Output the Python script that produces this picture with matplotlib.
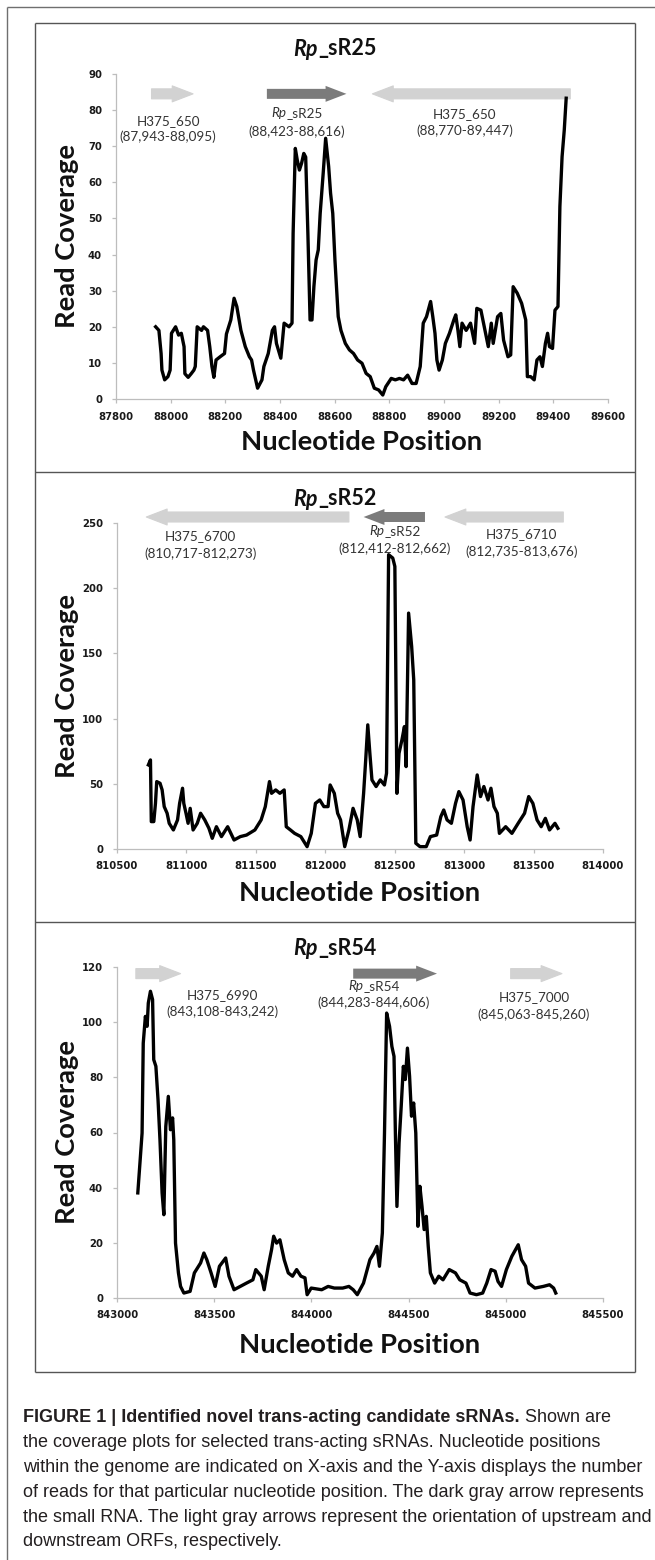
import matplotlib
matplotlib.use("Agg")
import matplotlib.pyplot as plt
from matplotlib.lines import Line2D
from matplotlib.patches import ArrowStyle

W, H = 655, 1560
fig = plt.figure(figsize=(W / 100, H / 100), dpi=100)
fig.patch.set_facecolor("white")

HUM = ["Lato", "DejaVu Sans"]
ARIAL = ["Liberation Sans", "DejaVu Sans"]
TICKF = ["DejaVu Sans"]

# ---------------- data ----------------
# Panel 1: Rp_sR25
p1_x = [87945, 87957, 87965, 87968, 87978, 87990, 87998, 88003, 88018, 88029, 88039, 88049, 88052, 88064,
        88075, 88085, 88090, 88097, 88113, 88120, 88135, 88143, 88151, 88158, 88166, 88181, 88197, 88204,
        88220, 88232, 88242, 88257, 88273, 88288, 88296, 88303, 88318, 88334, 88341, 88357, 88372, 88380,
        88387, 88403, 88415, 88433, 88444, 88448, 88456, 88463, 88471, 88479, 88487, 88494, 88502, 88510,
        88517, 88524, 88532, 88540, 88547, 88558, 88567, 88578, 88585, 88593, 88601, 88613, 88623, 88639,
        88654, 88669, 88684, 88700, 88715, 88730, 88745, 88761, 88776, 88787, 88807, 88822, 88837, 88852,
        88867, 88883, 88898, 88913, 88924, 88936, 88951, 88959, 88967, 88974, 88982, 88994, 89005, 89020,
        89036, 89043, 89051, 89058, 89066, 89081, 89097, 89112, 89120, 89135, 89150, 89162, 89173, 89180,
        89196, 89208, 89218, 89234, 89244, 89253, 89268, 89284, 89299, 89305, 89317, 89330, 89340, 89351,
        89360, 89371, 89379, 89386, 89397, 89406, 89417, 89424, 89432, 89440, 89447]
p1_y = [20.0, 19.0, 12.6, 8.0, 5.3, 6.2, 8.0, 18.2, 20.0, 17.7, 18.2, 14.5, 7.0, 6.0,
        7.0, 8.0, 9.0, 20.0, 19.0, 20.0, 19.0, 14.5, 9.0, 6.0, 10.8, 11.7, 12.6, 18.0,
        21.9, 27.9, 25.6, 19.0, 14.5, 11.7, 10.8, 8.0, 3.0, 5.3, 9.0, 12.6, 19.0, 20.0,
        15.4, 11.3, 21.0, 20.0, 21.0, 45.9, 69.4, 66.2, 63.4, 65.3, 68.0, 67.0, 45.9, 21.9,
        21.9, 31.1, 38.5, 41.3, 51.4, 62.5, 72.2, 64.4, 57.0, 51.4, 38.5, 22.8, 19.0, 15.4,
        13.6, 12.6, 10.8, 9.9, 7.1, 6.2, 3.0, 2.5, 1.1, 3.4, 5.7, 5.3, 5.7, 5.3,
        6.6, 4.3, 4.3, 9.0, 21.0, 22.8, 27.0, 22.8, 18.2, 10.8, 8.0, 10.8, 15.4, 18.2,
        21.9, 23.3, 19.0, 14.5, 21.0, 19.0, 21.0, 15.4, 25.1, 24.6, 19.0, 14.5, 21.0, 15.4,
        22.8, 23.7, 16.3, 11.7, 12.2, 31.1, 29.3, 26.5, 21.9, 6.2, 6.2, 5.3, 10.8, 11.7,
        9.0, 15.4, 18.2, 14.5, 14.0, 24.6, 25.6, 53.3, 67.1, 74.5, 83.3]

# Panel 2: Rp_sR52
p2_x = [810726, 810741, 810747, 810765, 810777, 810786, 810810, 810825, 810840, 810861, 810876, 810906,
        810936, 810951, 810972, 810981, 810997, 811012, 811027, 811048, 811078, 811102, 811132, 811162,
        811186, 811216, 811252, 811297, 811343, 811388, 811433, 811493, 811538, 811568, 811598, 811613,
        811643, 811673, 811704, 811719, 811749, 811779, 811824, 811869, 811899, 811929, 811960, 811990,
        812020, 812035, 812065, 812089, 812110, 812140, 812170, 812200, 812230, 812251, 812276, 812291,
        812306, 812321, 812336, 812366, 812396, 812426, 812441, 812456, 812486, 812501, 812516, 812531,
        812552, 812570, 812582, 812600, 812622, 812637, 812652, 812682, 812727, 812757, 812802, 812832,
        812853, 812877, 812908, 812938, 812962, 812992, 813022, 813043, 813064, 813094, 813118, 813142,
        813172, 813193, 813215, 813239, 813254, 813299, 813344, 813389, 813435, 813465, 813495, 813525,
        813555, 813585, 813615, 813654, 813675]
p2_y = [64.5, 68.3, 21.0, 21.0, 35.0, 51.7, 50.4, 45.3, 32.5, 27.4, 19.7, 14.6,
        22.3, 35.0, 46.6, 35.0, 27.4, 19.7, 31.2, 14.6, 19.7, 27.4, 22.3, 15.9,
        8.2, 17.1, 9.5, 17.1, 6.9, 9.5, 10.7, 14.6, 22.3, 32.5, 51.7, 42.7,
        45.3, 42.7, 45.3, 17.1, 14.6, 12.0, 9.5, 1.8, 12.0, 35.0, 37.6, 32.5,
        32.5, 49.1, 42.7, 27.4, 22.3, 1.8, 14.6, 31.2, 22.3, 9.5, 42.7, 68.3,
        95.2, 73.4, 53.0, 47.9, 53.0, 49.1, 58.1, 225.7, 223.1, 216.7, 42.7, 73.4,
        83.7, 93.9, 63.2, 180.9, 155.3, 129.7, 4.4, 1.8, 1.8, 9.5, 10.7, 24.8,
        29.9, 22.3, 19.7, 35.0, 44.0, 37.6, 17.1, 6.9, 32.5, 56.8, 40.2, 47.9,
        37.6, 46.6, 32.5, 27.4, 12.0, 17.1, 12.0, 19.7, 27.4, 40.2, 35.0, 22.3,
        17.1, 23.5, 14.6, 19.7, 15.9]

# Panel 3: Rp_sR54
p3_x = [843107, 843118, 843129, 843135, 843146, 843155, 843161, 843172, 843183, 843189, 843200, 843211,
        843221, 843232, 843241, 843251, 843264, 843275, 843286, 843292, 843301, 843316, 843327, 843344,
        843376, 843398, 843430, 843447, 843462, 843484, 843505, 843527, 843559, 843576, 843602, 843634,
        843666, 843699, 843714, 843742, 843757, 843778, 843795, 843806, 843821, 843838, 843860, 843881,
        843903, 843924, 843946, 843967, 843978, 843999, 844053, 844086, 844118, 844161, 844193, 844215,
        844236, 844268, 844301, 844322, 844337, 844350, 844365, 844376, 844387, 844402, 844414, 844425,
        844432, 844440, 844451, 844462, 844473, 844483, 844494, 844505, 844515, 844526, 844537, 844548,
        844558, 844569, 844580, 844591, 844601, 844612, 844634, 844655, 844677, 844709, 844741, 844763,
        844795, 844816, 844849, 844881, 844902, 844924, 844945, 844960, 844978, 845003, 845031, 845064,
        845081, 845102, 845117, 845150, 845193, 845225, 845246, 845257]
p3_y = [38.1, 48.9, 59.8, 92.4, 102.1, 98.5, 106.9, 111.2, 108.2, 86.4, 84.0, 71.9,
        57.4, 38.1, 30.2, 62.2, 73.1, 61.0, 65.3, 57.4, 19.9, 9.1, 4.2, 1.8,
        2.4, 9.1, 12.7, 16.3, 13.9, 9.1, 4.2, 11.5, 14.5, 7.9, 3.0, 4.2,
        5.4, 6.6, 10.3, 7.9, 3.0, 11.5, 17.5, 22.4, 19.9, 21.1, 13.9, 9.1,
        7.9, 10.3, 7.9, 7.3, 1.2, 3.6, 3.0, 4.2, 3.6, 3.6, 4.2, 3.0,
        1.2, 5.4, 13.9, 16.3, 18.7, 11.5, 23.6, 59.8, 103.3, 98.5, 91.2, 87.6,
        59.8, 33.2, 56.2, 69.5, 84.0, 79.2, 90.6, 80.4, 65.9, 70.7, 59.8, 26.0,
        40.5, 33.2, 24.8, 29.6, 18.7, 9.1, 5.4, 7.9, 6.6, 10.3, 9.1, 6.6,
        5.4, 1.8, 1.2, 1.8, 5.4, 10.3, 9.7, 6.0, 4.2, 10.3, 15.1, 19.3,
        13.9, 11.5, 5.4, 3.6, 4.2, 4.8, 3.6, 1.8]

titles = [("Rp", "_sR25"), ("Rp", "_sR52"), ("Rp", "_sR54")]
p1_xticks = [87800, 88000, 88200, 88400, 88600, 88800, 89000, 89200, 89400, 89600]
p1_yticks = [0, 10, 20, 30, 40, 50, 60, 70, 80, 90]
p2_xticks = [810500, 811000, 811500, 812000, 812500, 813000, 813500, 814000]
p2_yticks = [0, 50, 100, 150, 200, 250]
p3_xticks = [843000, 843500, 844000, 844500, 845000, 845500]
p3_yticks = [0, 20, 40, 60, 80, 100, 120]

# gene arrows: (tail, head, kind) ; labels: (name_italic, name_rest, coords)
p1_arrows = [(87930, 88082, "light"), (88352, 88643, "dark"), (89462, 88738, "light")]
p2_arrows = [(812170, 810711, "light"), (812718, 812276, "dark"), (813714, 812862, "light")]
p3_arrows = [(843097, 843327, "light"), (844215, 844646, "dark"), (845025, 845289, "light")]
p1_labels = [("", "H375_650", "(87,943-88,095)"), ("Rp", "_sR25", "(88,423-88,616)"),
             ("", "H375_650", "(88,770-89,447)")]
p2_labels = [("", "H375_6700", "(810,717-812,273)"), ("Rp", "_sR52", "(812,412-812,662)"),
             ("", "H375_6710", "(812,735-813,676)")]
p3_labels = [("", "H375_6990", "(843,108-843,242)"), ("Rp", "_sR54", "(844,283-844,606)"),
             ("", "H375_7000", "(845,063-845,260)")]

# ---------------- layout (pixels) ----------------
panels = [
    dict(x=p1_x, y=p1_y, xt=p1_xticks, yt=p1_yticks, arrows=p1_arrows, labels=p1_labels,
         rect=(116, 74, 608, 399), title_y=49, xlabel_y=442, arrow_y=84.5,
         label_pos=[(87991, 77.1, 72.5), (88462, 79.2, 73.9), (89076, 79.0, 74.2)]),
    dict(x=p2_x, y=p2_y, xt=p2_xticks, yt=p2_yticks, arrows=p2_arrows, labels=p2_labels,
         rect=(117, 523, 603, 849), title_y=499, xlabel_y=893, arrow_y=254.6,
         label_pos=[(811102, 239.8, 226.2), (812501, 243.6, 230.0), (813413, 241.6, 228.2)]),
    dict(x=p3_x, y=p3_y, xt=p3_xticks, yt=p3_yticks, arrows=p3_arrows, labels=p3_labels,
         rect=(117, 967, 603, 1298), title_y=949, xlabel_y=1345, arrow_y=117.6,
         label_pos=[(843544, 110.0, 103.7), (844322, 113.2, 106.9), (845145, 109.1, 102.7)]),
]

def fx(px):
    return px / W

def fy(py):
    return 1 - py / H

renderer = fig.canvas.get_renderer()

def multi_text(x_px, y_px, parts, ha="center", va="center"):
    """parts: list of (string, dict of text kwargs); placed side by side, in pixel coords."""
    parts = [p for p in parts if p[0]]
    arts = []
    for s, kw in parts:
        t = fig.text(0, 0, s, va=va, ha="left", **kw)
        arts.append(t)
    widths = [t.get_window_extent(renderer).width for t in arts]
    total = sum(widths)
    start = x_px - total / 2 if ha == "center" else x_px
    cur = start
    for t, w in zip(arts, widths):
        t.set_position((fx(cur), fy(y_px)))
        cur += w
    return arts

arrow_colors = {"light": "#d2d2d2", "dark": "#7b7b7b"}

for P, (it, rest) in zip(panels, titles):
    l, t, r, b = P["rect"]
    ax = fig.add_axes([fx(l), fy(b), (r - l) / W, (b - t) / H])
    ax.plot(P["x"], P["y"], color="black", lw=2.4, solid_joinstyle="round", zorder=3)
    ax.set_xlim(P["xt"][0], P["xt"][-1])
    ax.set_ylim(P["yt"][0], P["yt"][-1])
    ax.set_xticks(P["xt"])
    ax.set_xticklabels([str(v) for v in P["xt"]], fontweight="bold", family=TICKF)
    ax.set_yticks(P["yt"])
    ax.set_yticklabels([str(v) for v in P["yt"]], fontweight="bold", family=TICKF)
    for s in ["top", "right"]:
        ax.spines[s].set_visible(False)
    for s in ["left", "bottom"]:
        ax.spines[s].set_color("#bdbdbd")
        ax.spines[s].set_linewidth(0.9)
    ax.tick_params(axis="both", direction="out", length=3, width=0.9, color="#bdbdbd",
                   labelsize=7.3, labelcolor="#1a1a1a")
    ax.tick_params(axis="y", pad=7)
    ax.tick_params(axis="x", pad=6)
    ax.set_facecolor("none")

    # arrows
    for tail, head, kind in P["arrows"]:
        c = arrow_colors[kind]
        style = ArrowStyle.Simple(head_length=1.5, head_width=1.15, tail_width=0.72)
        ax.annotate("", xy=(head, P["arrow_y"]), xytext=(tail, P["arrow_y"]),
                    arrowprops=dict(arrowstyle=style, mutation_scale=10, fc=c,
                                    ec=c if kind == "light" else "none",
                                    lw=0.8, shrinkA=0, shrinkB=0, clip_on=False),
                    annotation_clip=False, zorder=2)

    # arrow labels
    for (iname, rname, coords), (lx, ly1, ly2) in zip(P["labels"], P["label_pos"]):
        X1, Y1 = ax.transData.transform((lx, ly1))
        X2, Y2 = ax.transData.transform((lx, ly2))
        kw = dict(fontsize=9.7, family=HUM, color="#333333")
        multi_text(X1, H - Y1, [(iname, dict(kw, style="italic")), (rname, kw)])
        multi_text(X2, H - Y2, [(coords, kw)])

    # title
    tkw = dict(fontsize=15.5, family=HUM, fontweight="bold", color="#111111")
    multi_text(335, P["title_y"], [(it, dict(tkw, style="italic")), (rest, tkw)])

    # axis labels
    fig.text(fx(67), fy((t + b) / 2), "Read Coverage", rotation=90, ha="center", va="center",
             fontsize=19.7, fontweight="bold", family=HUM, color="#111111")
    fig.text(fx((l + r) / 2), fy(P["xlabel_y"]), "Nucleotide Position", ha="center", va="center",
             fontsize=19.7, fontweight="bold", family=HUM, color="#111111")

# frames
def fline(x0, y0, x1, y1, color, lw):
    fig.add_artist(Line2D([fx(x0), fx(x1)], [fy(y0), fy(y1)], transform=fig.transFigure,
                          color=color, lw=lw, solid_capstyle="butt"))

fline(7, 7, 655, 7, "#6f6f6f", 1.0)
fline(7, 7, 7, 1560, "#6f6f6f", 1.0)
box_l, box_t, box_r, box_b = 35, 23, 635, 1372
fline(box_l, box_t, box_r, box_t, "#555555", 1.0)
fline(box_l, box_b, box_r, box_b, "#555555", 1.0)
fline(box_l, box_t, box_l, box_b, "#555555", 1.0)
fline(box_r, box_t, box_r, box_b, "#555555", 1.0)
fline(box_l, 472, box_r, 472, "#555555", 1.0)
fline(box_l, 922, box_r, 922, "#555555", 1.0)

# caption
cap_bold = "FIGURE 1 | Identified novel trans-acting candidate sRNAs."
cap_lines = [" Shown are",
             "the coverage plots for selected trans-acting sRNAs. Nucleotide positions",
             "within the genome are indicated on X-axis and the Y-axis displays the number",
             "of reads for that particular nucleotide position. The dark gray arrow represents",
             "the small RNA. The light gray arrows represent the orientation of upstream and",
             "downstream ORFs, respectively."]
ckw = dict(fontsize=13.0, family=ARIAL, color="#231f20")
y0 = 1422
multi_text(23, y0, [(cap_bold, dict(ckw, fontweight="bold")), (cap_lines[0], ckw)],
           ha="left", va="baseline")
for i, line in enumerate(cap_lines[1:], start=1):
    fig.text(fx(23), fy(y0 + i * 24.9), line, ha="left", va="baseline", **ckw)

fig.savefig("out.png", dpi=100, facecolor="white")
